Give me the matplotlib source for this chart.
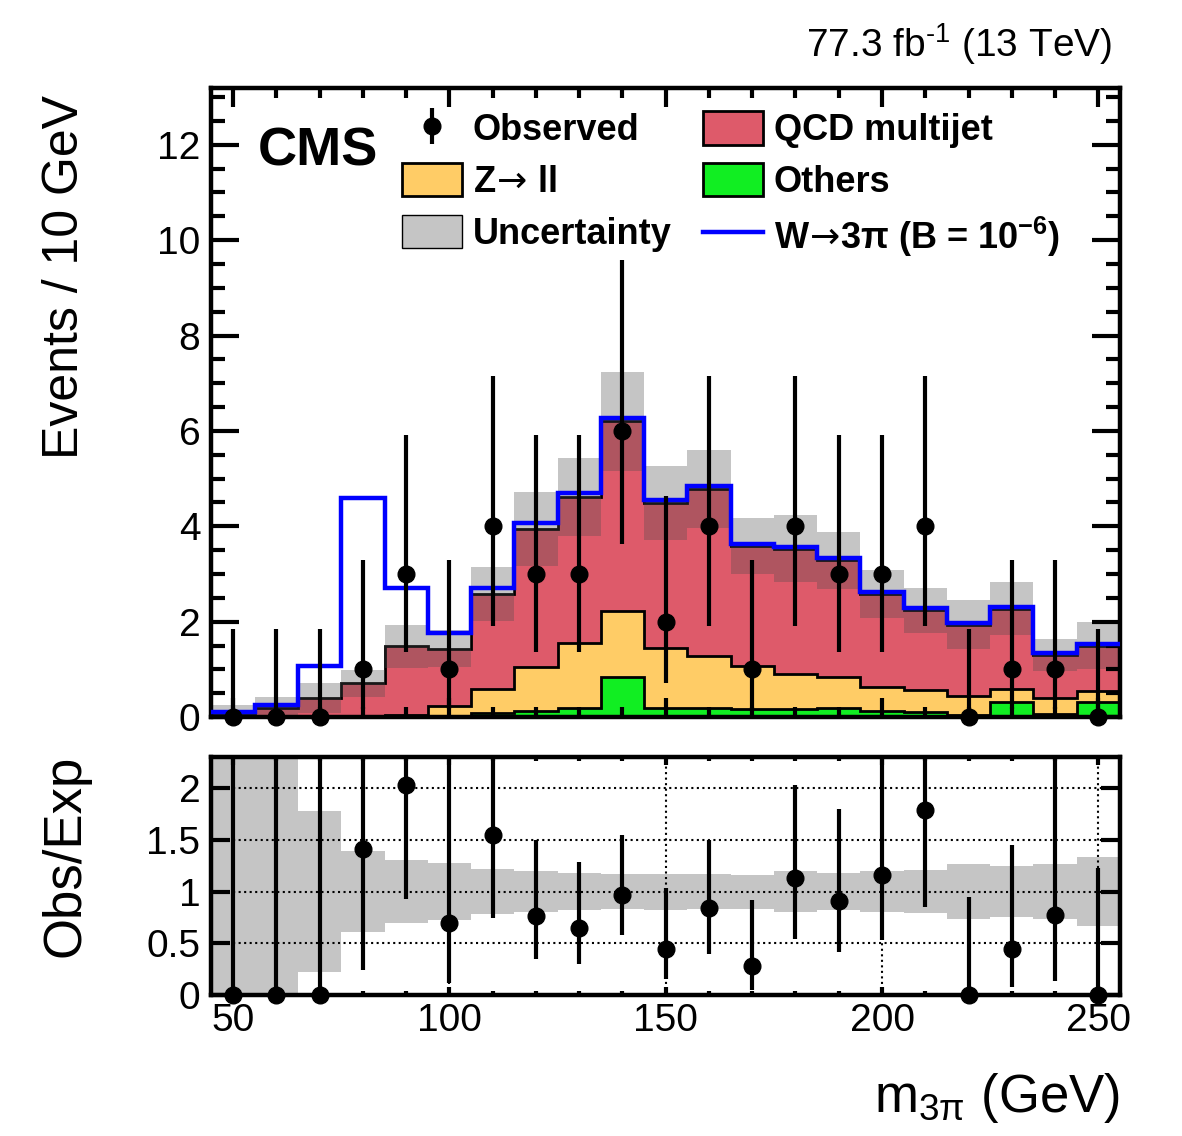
import matplotlib
matplotlib.use('Agg')
import matplotlib.pyplot as plt
import numpy as np
from matplotlib.patches import Patch
from matplotlib.ticker import MultipleLocator, FormatStrFormatter

plt.rcParams['font.family'] = ['Liberation Sans', 'DejaVu Sans']
plt.rcParams['mathtext.fontset'] = 'custom'
plt.rcParams['mathtext.rm'] = 'Liberation Sans'
plt.rcParams['mathtext.it'] = 'Liberation Sans'
plt.rcParams['mathtext.bf'] = 'Liberation Sans:bold'
plt.rcParams['mathtext.sf'] = 'DejaVu Sans'

# bin centres of m_3pi (GeV), 10 GeV wide
mass = np.array([50, 60, 70, 80, 90, 100, 110, 120, 130, 140, 150,
                 160, 170, 180, 190, 200, 210, 220, 230, 240, 250])
others = np.array([0, 0, 0, 0, 0.01, 0.02, 0.08, 0.13, 0.18, 0.83, 0.18,
                   0.20, 0.16, 0.16, 0.19, 0.13, 0.10, 0.05, 0.31, 0.06, 0.31])
zll = np.array([0, 0, 0, 0, 0.03, 0.21, 0.51, 0.91, 1.37, 1.40, 1.26,
                1.09, 0.90, 0.74, 0.66, 0.51, 0.47, 0.40, 0.28, 0.33, 0.24])
qcd = np.array([0.07, 0.18, 0.40, 0.71, 1.44, 1.20, 1.99, 2.90, 3.06, 3.97, 3.05,
                3.49, 2.53, 2.63, 2.44, 1.94, 1.67, 1.49, 1.68, 0.91, 0.95])
unc = np.array([0.18, 0.24, 0.31, 0.28, 0.45, 0.39, 0.56, 0.77, 0.82, 1.04, 0.78,
                0.82, 0.59, 0.70, 0.60, 0.50, 0.47, 0.52, 0.56, 0.34, 0.50])
signal = np.array([0.03, 0.07, 0.68, 3.89, 1.23, 0.33, 0.13, 0.12, 0.08, 0.07, 0.07,
                   0.06, 0.04, 0.04, 0.04, 0.04, 0.04, 0.04, 0.04, 0.04, 0.03])
obs = np.array([0, 0, 0, 1, 3, 1, 4, 3, 3, 6, 2, 4, 1, 4, 3, 3, 4, 0, 1, 1, 0])
obs_lo = np.array([0, 0, 0, 0.17, 1.37, 0.17, 1.91, 1.37, 1.37, 3.62, 0.71,
                   1.91, 0.17, 1.91, 1.37, 1.37, 1.91, 0, 0.17, 0.17, 0])
obs_hi = np.array([1.84, 1.84, 1.84, 3.30, 5.92, 3.30, 7.16, 5.92, 5.92, 9.58, 4.64,
                   7.16, 3.30, 7.16, 5.92, 5.92, 7.16, 1.84, 3.30, 3.30, 1.84])

edges = np.append(mass - 5, mass[-1] + 5)
s1 = others
s2 = others + zll
bkg = s2 + qcd

red = '#de5a6a'
orange = '#ffcc66'
green = '#11ee22'
band = (0.3, 0.3, 0.3, 0.32)

fig = plt.figure(figsize=(11.82, 11.36), dpi=100)
ax = fig.add_axes([0.1789, 0.3688, 0.7686, 0.5533])
ax2 = fig.add_axes([0.1789, 0.1241, 0.7686, 0.2095])

h_qcd = ax.stairs(bkg, edges, baseline=0, fill=True, facecolor=red, edgecolor='black', lw=2)
h_zll = ax.stairs(s2, edges, baseline=0, fill=True, facecolor=orange, edgecolor='black', lw=2)
h_oth = ax.stairs(s1, edges, baseline=0, fill=True, facecolor=green, edgecolor='black', lw=2)
ax.bar(mass, 2 * unc, bottom=bkg - unc, width=10, color=band, lw=0)
h_sig = ax.stairs(bkg + signal, edges, baseline=None, color='#0000ff', lw=3.2, zorder=3)
h_obs = ax.errorbar(mass, obs, yerr=[obs - obs_lo, obs_hi - obs], fmt='o', color='black',
                    ms=12, elinewidth=3, capsize=0, zorder=6, clip_on=False)

ax.set_xlim(45, 255)
ax.set_ylim(0, 13.18)
ax.set_axisbelow(False)

h_unc = Patch(facecolor=band, edgecolor='black', lw=1)
handles = [h_obs, h_zll, h_unc, h_qcd, h_oth, h_sig]
labels = ['Observed', r'Z$\!\mathsf{\rightarrow}\!$ ll', 'Uncertainty', 'QCD multijet', 'Others',
          r'W$\!\mathsf{\rightarrow}\!$3π (B = 10$^{\mathbf{-6}}$)']
ax.legend(handles, labels, ncol=2, loc='upper left', bbox_to_anchor=(0.2097, 0.964),
          frameon=False, prop={'weight': 'bold', 'size': 26}, handlelength=1.66,
          handleheight=1.05, handletextpad=0.3, columnspacing=0.87, labelspacing=0.41,
          borderpad=0, borderaxespad=0)

ax.text(0.051, 0.878, 'CMS', transform=ax.transAxes, fontsize=39, fontweight='bold',
        va='baseline', ha='left')

# ratio panel
ratio = obs / bkg
ax2.bar(mass, 2 * unc / bkg, bottom=1 - unc / bkg, width=10, color=band, lw=0)
ax2.errorbar(mass, ratio, yerr=[(obs - obs_lo) / bkg, (obs_hi - obs) / bkg], fmt='none',
             ecolor='black', elinewidth=3, capsize=0, zorder=5)
ax2.plot(mass, ratio, 'o', color='black', ms=12, zorder=6, clip_on=False)
ax2.set_xlim(45, 255)
ax2.set_ylim(0, 2.30)
ax2.set_axisbelow(False)
ax2.grid(True, which='major', ls=':', color='black', lw=1.5)

for a in (ax, ax2):
    a.xaxis.set_major_locator(MultipleLocator(50))
    a.xaxis.set_minor_locator(MultipleLocator(10))
    a.tick_params(which='both', direction='in', top=True, right=True, width=3,
                  labelsize=28)
    for sp in a.spines.values():
        sp.set_linewidth(3.2)

ax.yaxis.set_major_locator(MultipleLocator(2))
ax.yaxis.set_minor_locator(MultipleLocator(0.5))
ax.tick_params(axis='y', which='major', length=20, pad=8)
ax.tick_params(axis='y', which='minor', length=10)
ax.tick_params(axis='x', which='major', length=14)
ax.tick_params(axis='x', which='minor', length=7)
ax.tick_params(labelbottom=False)

ax2.yaxis.set_major_locator(MultipleLocator(0.5))
ax2.yaxis.set_major_formatter(FormatStrFormatter('%g'))
ax2.tick_params(axis='y', which='major', length=14, pad=8)
ax2.tick_params(axis='x', which='major', length=6, pad=6)
ax2.tick_params(axis='x', which='minor', length=3)

fig.text(0.055, 0.9164, 'Events / 10 GeV', rotation=90, ha='center', va='top', fontsize=36)
fig.text(0.055, 0.3354, 'Obs/Exp', rotation=90, ha='center', va='top', fontsize=38)
fig.text(0.9476, 0.0211, r'm$_{3π}$ (GeV)', ha='right', va='baseline', fontsize=38)
fig.text(0.9408, 0.9498, r'77.3 fb$^{\text{-1}}$ (13 TeV)', ha='right', va='baseline',
         fontsize=28)

fig.savefig('out.png', dpi=100)
